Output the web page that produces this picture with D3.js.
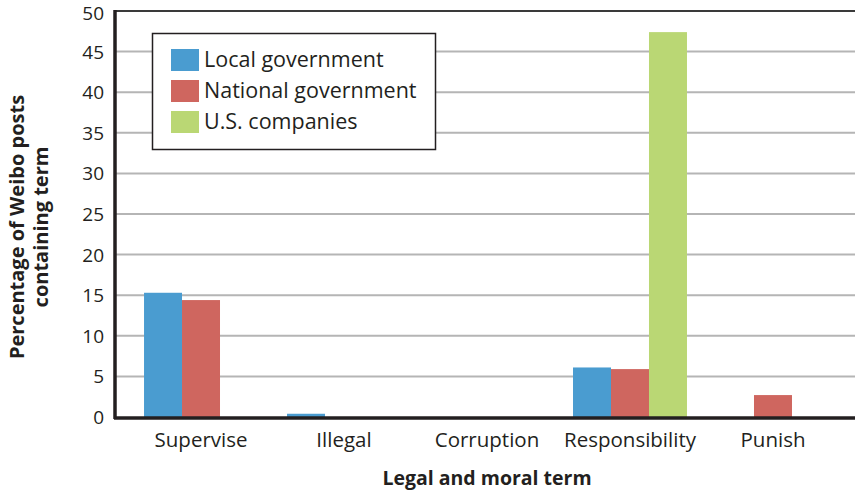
<!DOCTYPE html>
<html>
<head>
<meta charset="utf-8">
<script src="https://cdn.jsdelivr.net/npm/d3@7"></script>
<style>
  body { margin: 0; background: #fff; }
  svg { display: block; font-family: "Open Sans", "Noto Sans", sans-serif; }
</style>
</head>
<body>
<svg id="chart" width="855" height="492"></svg>
<script>
const categories = ["Supervise", "Illegal", "Corruption", "Responsibility", "Punish"];
const seriesNames = ["Local government", "National government", "U.S. companies"];
const localGov = [15.3, 0.4, 0, 6.1, 0];
const nationalGov = [14.4, 0, 0, 5.9, 2.7];
const usCompanies = [0, 0, 0, 47.4, 0];
const yTicks = [0, 5, 10, 15, 20, 25, 30, 35, 40, 45, 50];
const colors = ["#4a9cd0", "#cf665f", "#bad774"];

const width = 855;
const height = 492;
const plotLeft = 114, plotTop = 11, plotBottom = 417;

const svg = d3.select("#chart");

const x = d3.scaleBand()
  .domain(categories)
  .range([plotLeft, 860])
  .paddingInner(0.203)
  .paddingOuter(0.21);

const xs = d3.scaleBand()
  .domain(seriesNames)
  .range([0, x.bandwidth()]);

const y = d3.scaleLinear()
  .domain([0, 50])
  .range([plotBottom, plotTop]);

// gridlines
svg.append("g")
  .selectAll("line")
  .data(yTicks.filter(t => t > 0))
  .join("line")
  .attr("x1", plotLeft)
  .attr("x2", width)
  .attr("y1", d => y(d))
  .attr("y2", d => y(d))
  .attr("stroke", d => d === 50 ? "#3a3a3a" : "#b5b5b5")
  .attr("stroke-width", 2);

// y tick labels
svg.append("g")
  .selectAll("text")
  .data(yTicks)
  .join("text")
  .attr("x", 104)
  .attr("y", d => y(d) + (d === 50 ? 9 : 7))
  .attr("text-anchor", "end")
  .attr("fill", "#231f20")
  .style("font-size", "19px")
  .text(d => d);

// bars
const series = [localGov, nationalGov, usCompanies];
seriesNames.forEach((name, i) => {
  svg.append("g")
    .selectAll("rect")
    .data(categories.map((c, j) => ({ cat: c, value: series[i][j] })).filter(d => d.value > 0))
    .join("rect")
    .attr("x", d => x(d.cat) + xs(name))
    .attr("y", d => y(d.value))
    .attr("width", xs.bandwidth())
    .attr("height", d => y(0) - y(d.value))
    .attr("fill", colors[i]);
});

// axis lines
svg.append("line")
  .attr("x1", plotLeft).attr("x2", width)
  .attr("y1", plotBottom + 1).attr("y2", plotBottom + 1)
  .attr("stroke", "#231f20").attr("stroke-width", 3.5);
svg.append("line")
  .attr("x1", plotLeft + 1).attr("x2", plotLeft + 1)
  .attr("y1", plotTop - 1).attr("y2", plotBottom + 2)
  .attr("stroke", "#231f20").attr("stroke-width", 3.5);

// category labels
svg.append("g")
  .selectAll("text")
  .data(categories)
  .join("text")
  .attr("x", d => x(d) + x.bandwidth() / 2)
  .attr("y", 447)
  .attr("text-anchor", "middle")
  .attr("fill", "#231f20")
  .style("font-size", "20.5px")
  .text(d => d);

// axis titles
svg.append("text")
  .attr("x", 487)
  .attr("y", 485)
  .attr("text-anchor", "middle")
  .attr("fill", "#231f20")
  .style("font-size", "19.5px")
  .style("font-weight", "bold")
  .text("Legal and moral term");

const yTitle = svg.append("text")
  .attr("transform", "translate(0, 227) rotate(-90)")
  .attr("text-anchor", "middle")
  .attr("fill", "#231f20")
  .style("font-size", "20px")
  .style("font-weight", "bold");
yTitle.append("tspan").attr("x", 0).attr("y", 24).text("Percentage of Weibo posts");
yTitle.append("tspan").attr("x", 0).attr("y", 48).text("containing term");

// legend
const legend = svg.append("g");
legend.append("rect")
  .attr("x", 152.5).attr("y", 33.5)
  .attr("width", 283).attr("height", 116)
  .attr("fill", "#fff")
  .attr("stroke", "#231f20")
  .attr("stroke-width", 1.5);

seriesNames.forEach((name, i) => {
  legend.append("rect")
    .attr("x", 171).attr("y", 49 + i * 31)
    .attr("width", 28).attr("height", 22)
    .attr("fill", colors[i]);
  legend.append("text")
    .attr("x", 204).attr("y", 67 + i * 31)
    .attr("fill", "#231f20")
    .style("font-size", "21.5px")
    .text(name);
});
</script>
</body>
</html>
